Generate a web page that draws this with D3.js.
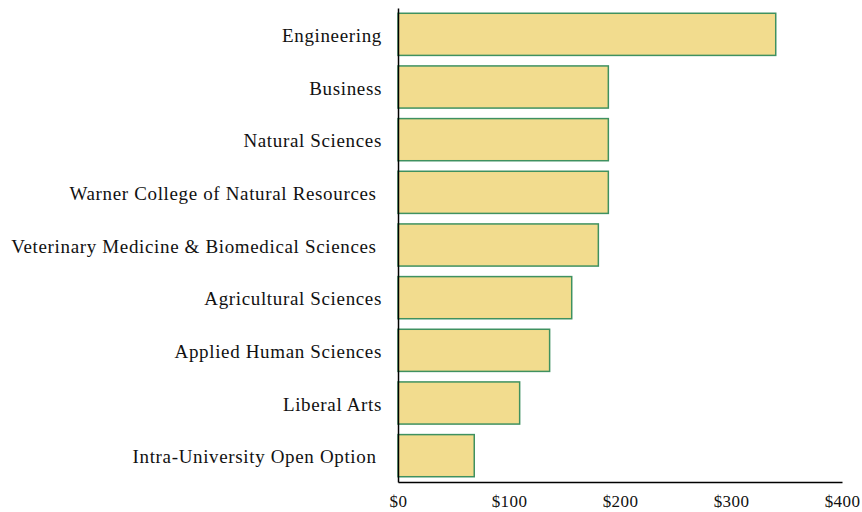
<!DOCTYPE html>
<html><head><meta charset="utf-8">
<script src="https://cdn.jsdelivr.net/npm/d3@7"></script>
<style>
html,body{margin:0;padding:0;background:#fff;}
svg text{font-family:"Liberation Serif","Times New Roman",serif;white-space:pre;}
</style></head>
<body><svg id="chart" width="862" height="512"></svg>
<script>
const categories = ["Engineering","Business","Natural Sciences","Warner College of Natural Resources ","Veterinary Medicine & Biomedical Sciences ","Agricultural Sciences","Applied Human Sciences","Liberal Arts","Intra-University Open Option "];
const values = [340.3,189.5,189.5,189.5,180.5,156.5,136.6,109.6,68.7];
const tickValues = [0,100,200,300,400];
const tickLabels = ["$0","$100","$200","$300","$400"];

const svg = d3.select("#chart");
const x = d3.scaleLinear().domain([0,400]).range([398,842]);
const y = d3.scaleBand().domain(categories).range([8,482]).paddingInner(0.2).paddingOuter(0.1);

svg.selectAll("rect.bar").data(categories).join("rect")
  .attr("class","bar")
  .attr("x",x(0))
  .attr("y",d=>y(d))
  .attr("width",(d,i)=>x(values[i])-x(0))
  .attr("height",y.bandwidth())
  .attr("fill","#F2DC8E")
  .attr("stroke","#3f9160")
  .attr("stroke-width",1.5);

// y axis
const yAxis = d3.axisLeft(y).tickSize(0).tickPadding(16);
const gy = svg.append("g").attr("transform",`translate(${x(0)},0)`).call(yAxis);
gy.select(".domain").attr("stroke","#000").attr("stroke-width",1.5);
gy.selectAll("text").attr("font-size",19).attr("letter-spacing","0.65px").attr("dy","0.4em").attr("fill","#111").attr("font-family",null);

// x axis
const xAxis = d3.axisBottom(x).tickValues(tickValues).tickFormat((d,i)=>tickLabels[i]).tickSize(0).tickPadding(13);
const gx = svg.append("g").attr("transform",`translate(0,${y.range()[1]})`).call(xAxis);
gx.select(".domain").attr("stroke","#000").attr("stroke-width",1.5);
gx.selectAll("text").attr("font-size",17).attr("letter-spacing","0.4px").attr("fill","#111").attr("font-family",null);
</script></body></html>
